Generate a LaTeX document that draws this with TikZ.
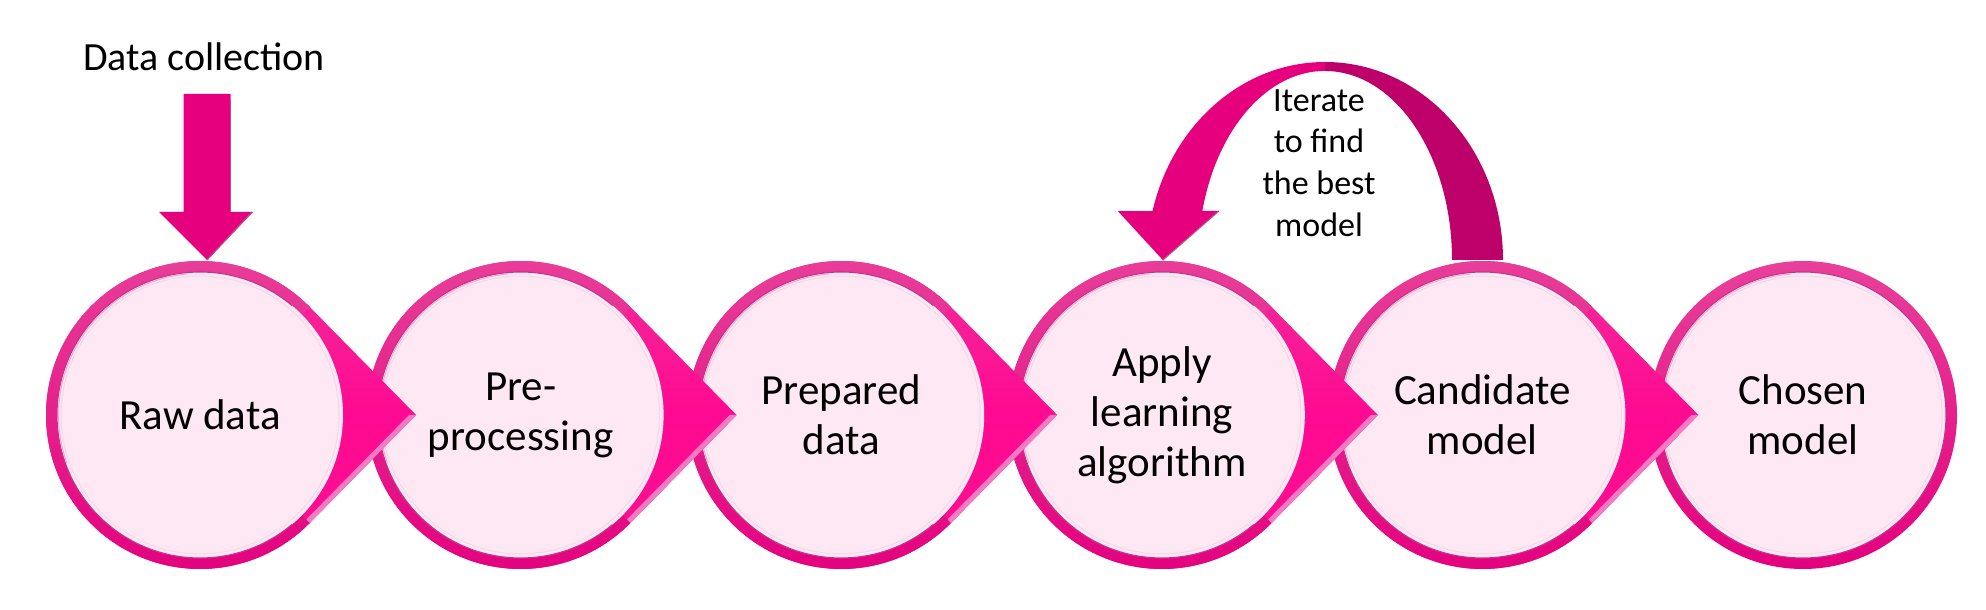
\documentclass[tikz,border=0pt]{standalone}
\usepackage{fontspec}
\setmainfont{Carlito}
\usetikzlibrary{calc}
\definecolor{ringtop}{HTML}{E8409A}
\definecolor{ringbot}{HTML}{E4007E}
\definecolor{tritop}{HTML}{F0309A}
\definecolor{trimid}{HTML}{FF0A92}
\definecolor{tribot}{HTML}{F8108F}
\definecolor{fillpink}{HTML}{FDE8F4}
\definecolor{fillline}{HTML}{F4D8E8}
\definecolor{ringdark}{HTML}{B8006E}
\definecolor{ringlight}{HTML}{F6A8D2}
\definecolor{bevelpink}{HTML}{F57AC4}
\definecolor{arrowpink}{HTML}{E6007E}
\definecolor{arrowdark}{HTML}{BE006B}
\definecolor{shadowpink}{HTML}{A0005A}
\tikzset{
  circletext/.style={align=center, font=\fontsize{43}{50}\selectfont, text=black, inner sep=0pt},
  toptext/.style={align=center, font=\fontsize{40}{48}\selectfont, text=black, inner sep=0pt},
  looptext/.style={align=center, font=\fontsize{34}{41.7}\selectfont, text=black, inner sep=0pt},
  trishade/.style={top color=tritop, bottom color=tribot, middle color=trimid},
  ringshade/.style={top color=ringtop, bottom color=ringbot},
  innerfill/.style={fill=fillpink},
  bevelstrip/.style={fill=bevelpink},
  flowarrow/.style={fill=arrowpink},
  flowarrowdark/.style={fill=arrowdark},
  inneredge/.style={draw=ringdark!80, line width=1.1pt},
  innerlight/.style={draw=ringlight, line width=1pt},
}
\begin{document}
\begin{tikzpicture}[x=1pt,y=1pt]
\useasboundingbox (0,0) rectangle (1986,610);
\fill[white] (0,0) rectangle (1986,610);

% circle centres
\coordinate (c1) at (200,195);
\coordinate (c2) at (520.6,195);
\coordinate (c3) at (841.2,195);
\coordinate (c4) at (1161.8,195);
\coordinate (c5) at (1482.4,195);
\coordinate (c6) at (1803,195);

% ---- loop arrow (behind circles)
\coordinate (lc) at (1325,350);
\coordinate (looptip) at ($(c4)+(1,155)$);
\fill[flowarrowdark] ($(lc)+(0,198)$) arc[start angle=90,end angle=0,x radius=178,y radius=198]
   -- ($(lc)+(127,0)$) arc[start angle=0,end angle=90,x radius=127,y radius=189] -- cycle;
\fill[flowarrow] ($(lc)+(0,198)$) arc[start angle=90,end angle=165.7,x radius=178,y radius=198]
   -- ($(looptip)+(-45,49)$) -- (looptip) -- ($(looptip)+(56,49)$)
   -- ($(lc)+(-122.7,49)$) arc[start angle=165,end angle=90,x radius=127,y radius=189] -- cycle;
\draw[shadowpink!70, line width=1.2pt] ($(looptip)+(56,49)$) -- (looptip);

% ---- data collection arrow
\node[toptext] (dc) at (204,553) {Data collection};
\coordinate (dctip) at ($(c1)+(7,155)$);
\fill[flowarrow] ($(dctip)+(-23.5,166)$) -- ($(dctip)+(23.5,166)$) -- ($(dctip)+(23.5,48)$)
   -- ($(dctip)+(46,48)$) -- (dctip) -- ($(dctip)+(-48,48)$) -- ($(dctip)+(-23.5,48)$) -- cycle;
\draw[shadowpink!70, line width=1.2pt] ($(dctip)+(23.5,160)$) -- ($(dctip)+(23.5,49)$);
\draw[shadowpink!70, line width=1.2pt] ($(dctip)+(45,48)$) -- (dctip);

% ---- last circle (no pointer)
\shade[ringshade] (c6) circle (154);
\fill[innerfill] (c6) circle (143);
\draw[fillline, line width=1pt] (c6) circle (139);
\draw[inneredge] (c6) circle (143);
\draw[innerlight] ($(c6)+(95:141.5)$) arc[start angle=95,end angle=200,radius=141.5];

% ---- teardrop circles, right to left so each pointer lies on the next circle
\foreach \c in {c5,c4,c3,c2,c1} {
  \shade[trishade] ($(\c)+(216,0)$) -- ($(\c)+(44.5:154)$)
     arc[start angle=44.5,end angle=315.5,radius=154] -- cycle;
  \shade[ringshade] ($(\c)+(44.5:154)$) arc[start angle=44.5,end angle=315.5,radius=154]
     -- ($(\c)+(315.5:143)$) arc[start angle=315.5,end angle=44.5,radius=143] -- cycle;
  \fill[bevelstrip] ($(\c)+(216,0)$) -- ($(\c)+(315.5:154)$) -- ($(\c)+(315.5:154)+(-3.5,3.5)$)
     -- ($(\c)+(209,0)$) -- cycle;
  \fill[innerfill] (\c) circle (143);
  \draw[fillline, line width=1pt] (\c) circle (139);
  \draw[inneredge] ($(\c)+(50:143)$) arc[start angle=50,end angle=310,radius=143];
  \draw[innerlight] ($(\c)+(95:141.5)$) arc[start angle=95,end angle=200,radius=141.5];
}

% ---- labels
\node[circletext] (raw) at (c1) {Raw data};
\node[circletext] (pre) at (c2) {Pre-\\processing};
\node[circletext] (prep) at (c3) {Prepared\\data};
\node[circletext] (apply) at (c4) {Apply\\learning\\algorithm};
\node[circletext] (cand) at (c5) {Candidate\\model};
\node[circletext] (chosen) at (c6) {Chosen\\model};
\node[looptext] (iter) at (1319,447) {Iterate\\to find\\the best\\model};
\end{tikzpicture}
\end{document}
